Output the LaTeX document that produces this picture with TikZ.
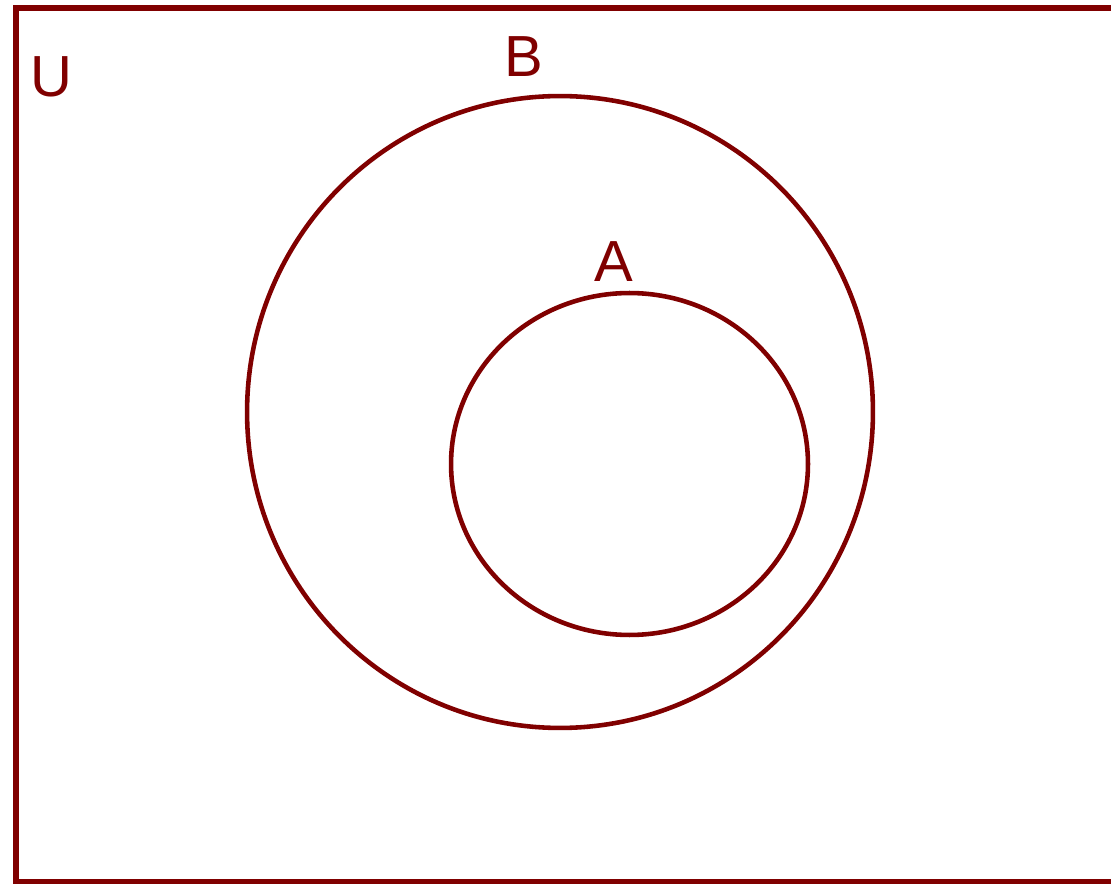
\documentclass[tikz,border=0pt]{standalone}
\usepackage{fontspec}
\setmainfont{Liberation Sans}
\usetikzlibrary{positioning,shapes.geometric}
\definecolor{setred}{HTML}{800000}

\begin{document}
\begin{tikzpicture}[
    x=0.02cm, y=-0.02cm,
    setline/.style={draw=setred, line width=2.6pt},
    setcircle/.style={setline, ellipse, inner sep=0pt},
    setlabel/.style={text=setred, inner sep=0pt, anchor=base, font=\fontsize{33}{33}\selectfont}
]
\useasboundingbox (0,0) rectangle (1111,884);
\clip (0,0) rectangle (1111,884);
% universe
\draw[setline, line width=3.4pt] (16,8) rectangle (1130,882);
\node[setlabel] (u) at (51,97) {U};
% sets
\node[setcircle, minimum width=12.52cm, minimum height=12.64cm] (B) at (560,412) {};
\node[setcircle, minimum width=7.14cm, minimum height=6.84cm] (A) at (629.5,464) {};
\node[setlabel] (lb) at (524,77) {B};
\node[setlabel] (la) at (614,282) {A};
\end{tikzpicture}
\end{document}
